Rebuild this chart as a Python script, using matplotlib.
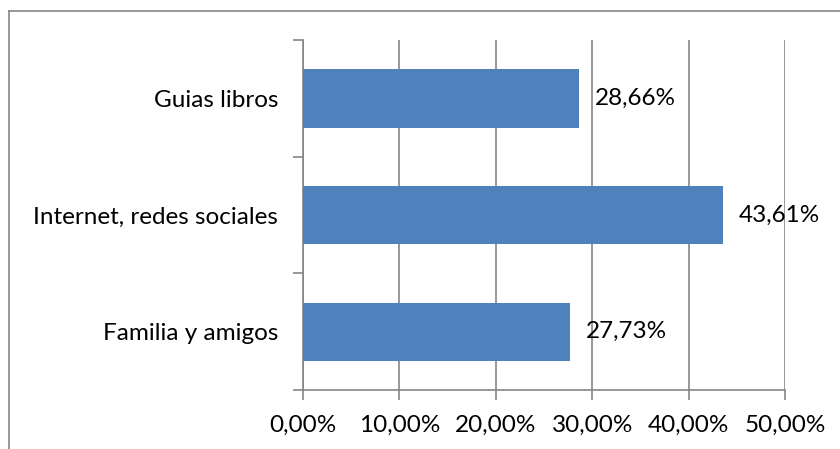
import matplotlib
matplotlib.use("Agg")
import matplotlib.pyplot as plt
from matplotlib.lines import Line2D

categories = ["Familia y amigos", "Internet, redes sociales", "Guias libros"]
values = [27.73, 43.61, 28.66]
xticks = [0, 10, 20, 30, 40, 50]

def pct(v):
    return f"{v:.2f}".replace(".", ",") + "%"

plt.rcParams["font.family"] = ["Lato", "DejaVu Sans"]
FS = 17.5

fig = plt.figure(figsize=(8.4, 4.49), dpi=100)
ax = fig.add_axes([303 / 840, 59 / 449, 482 / 840, 350 / 449])

grey = "#868686"
bar_color = "#4F81BD"

ypos = list(range(len(categories)))
ax.barh(ypos, values, height=0.5, color=bar_color, zorder=3)

for y, v in zip(ypos, values):
    ax.annotate(pct(v), (v, y), xytext=(11, 0), textcoords="offset points",
                va="center", ha="left", fontsize=FS, color="black", zorder=4)

ax.set_xlim(0, 50)
ax.set_ylim(-0.5, len(categories) - 0.5)
ax.set_xticks(xticks)
ax.set_xticklabels([pct(t) for t in xticks], fontsize=FS)
ax.set_yticks(ypos)
ax.set_yticklabels(categories, fontsize=FS)
ax.set_yticks([y - 0.5 for y in ypos] + [len(categories) - 0.5], minor=True)

ax.tick_params(axis="y", which="major", length=0, pad=18)
ax.tick_params(axis="y", which="minor", length=7, width=1.2, color=grey, direction="out")
ax.tick_params(axis="x", length=7, width=1.2, color=grey, direction="out", pad=11)

ax.grid(axis="x", color=grey, linewidth=1.2, zorder=0)
ax.set_axisbelow(True)
for side in ("top", "right"):
    ax.spines[side].set_visible(False)
for side in ("left", "bottom"):
    ax.spines[side].set_color(grey)
    ax.spines[side].set_linewidth(1.2)

# chart area border
fig.add_artist(Line2D([8.5 / 840, 8.5 / 840], [0, 1 - 10.5 / 449],
                      transform=fig.transFigure, color=grey, linewidth=1.2))
fig.add_artist(Line2D([8.5 / 840, 1], [1 - 10.5 / 449, 1 - 10.5 / 449],
                      transform=fig.transFigure, color=grey, linewidth=1.2))

fig.savefig("out.png", dpi=100)
